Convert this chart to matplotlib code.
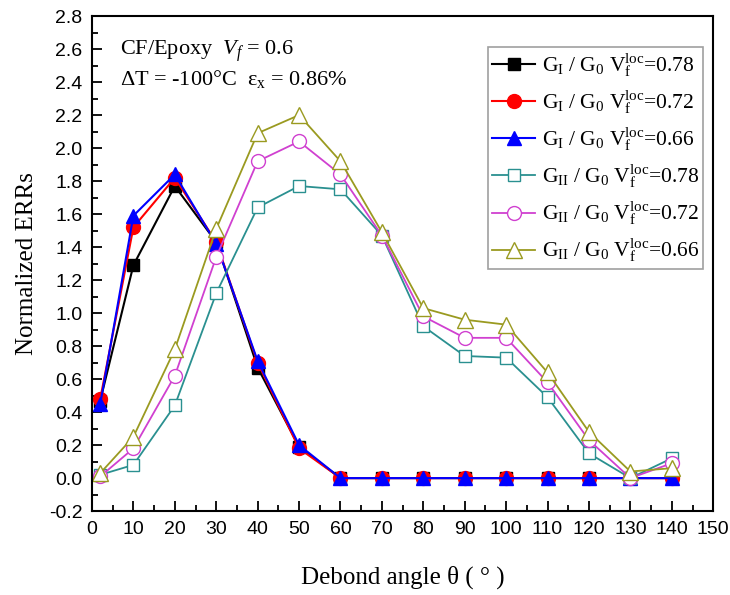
import matplotlib
matplotlib.use('Agg')
import matplotlib.pyplot as plt
from matplotlib.ticker import MultipleLocator

plt.rcParams['mathtext.fontset'] = 'custom'
plt.rcParams['mathtext.rm'] = 'Liberation Serif'
plt.rcParams['mathtext.it'] = 'Liberation Serif:italic'

theta = [2, 10, 20, 30, 40, 50, 60, 70, 80, 90, 100, 110, 120, 130, 140]

gI_078 = [0.47, 1.29, 1.77, 1.43, 0.67, 0.19, 0, 0, 0, 0, 0, 0, 0, 0, 0]
gI_072 = [0.48, 1.52, 1.82, 1.43, 0.70, 0.18, 0, 0, 0, 0, 0, 0, 0, 0, 0]
gI_066 = [0.45, 1.59, 1.84, 1.42, 0.71, 0.20, 0, 0, 0, 0, 0, 0, 0, 0, 0]
gII_078 = [0.02, 0.08, 0.44, 1.12, 1.64, 1.77, 1.75, 1.47, 0.92, 0.74, 0.73, 0.49, 0.15, 0.00, 0.12]
gII_072 = [0.01, 0.18, 0.62, 1.34, 1.92, 2.04, 1.84, 1.47, 0.98, 0.85, 0.85, 0.58, 0.23, 0.00, 0.09]
gII_066 = [0.03, 0.25, 0.78, 1.51, 2.09, 2.20, 1.92, 1.49, 1.03, 0.96, 0.93, 0.64, 0.28, 0.04, 0.06]

labels = [r'G$_\mathrm{I}$ / G$_0$ V$_\mathrm{f}^\mathrm{loc}$=0.78',
          r'G$_\mathrm{I}$ / G$_0$ V$_\mathrm{f}^\mathrm{loc}$=0.72',
          r'G$_\mathrm{I}$ / G$_0$ V$_\mathrm{f}^\mathrm{loc}$=0.66',
          r'G$_\mathrm{II}$ / G$_0$ V$_\mathrm{f}^\mathrm{loc}$=0.78',
          r'G$_\mathrm{II}$ / G$_0$ V$_\mathrm{f}^\mathrm{loc}$=0.72',
          r'G$_\mathrm{II}$ / G$_0$ V$_\mathrm{f}^\mathrm{loc}$=0.66']

fig = plt.figure(figsize=(7.3, 5.95), dpi=100)
ax = fig.add_axes([0.126, 0.141, 0.851, 0.832])

ax.plot(theta, gI_078, color='black', marker='s', ms=9, lw=1.5, label=labels[0])
ax.plot(theta, gI_072, color='red', marker='o', ms=10, lw=1.5, label=labels[1])
ax.plot(theta, gI_066, color='blue', marker='^', ms=10, lw=1.5, label=labels[2])
ax.plot(theta, gII_078, color='#2a9090', marker='s', ms=9, mfc='white', lw=1.3, label=labels[3])
ax.plot(theta, gII_072, color='#d040d0', marker='o', ms=10, mfc='white', lw=1.3, label=labels[4])
ax.plot(theta, gII_066, color='#9a9a20', marker='^', ms=11, mfc='white', lw=1.3, label=labels[5])

ax.set_xlim(0, 150)
ax.set_ylim(-0.2, 2.8)
ax.xaxis.set_major_locator(MultipleLocator(10))
ax.xaxis.set_minor_locator(MultipleLocator(5))
ax.yaxis.set_major_locator(MultipleLocator(0.2))
ax.yaxis.set_minor_locator(MultipleLocator(0.1))
ax.yaxis.set_major_formatter(matplotlib.ticker.FormatStrFormatter('%.1f'))
ax.tick_params(which='both', direction='in', top=False, right=False, width=1.3)
ax.tick_params(which='major', length=7, labelsize=14, pad=7)
ax.tick_params(which='minor', length=4)
for lab in ax.get_xticklabels() + ax.get_yticklabels():
    lab.set_family('Liberation Sans')
for s in ax.spines.values():
    s.set_linewidth(1.5)

ax.set_xlabel('Debond angle θ ( ° )', family='Liberation Serif', fontsize=18, labelpad=20)
ax.set_ylabel('Normalized ERRs', family='Liberation Serif', fontsize=18, labelpad=8)

ax.text(0.045, 0.955, r'CF/Epoxy  $\it{V_f}$ = 0.6', transform=ax.transAxes,
        family='Liberation Serif', fontsize=16, va='top')
ax.text(0.045, 0.895, r'ΔT = -100°C  ε$_\mathrm{x}$ = 0.86%', transform=ax.transAxes,
        family='Liberation Serif', fontsize=16, va='top')

leg = ax.legend(loc='upper right', bbox_to_anchor=(0.984, 0.937), fancybox=False,
                prop={'family': 'Liberation Serif', 'size': 15.5}, handlelength=2.0,
                labelspacing=0.45, borderpad=0.2, handletextpad=0.3,
                borderaxespad=0.0)
leg.get_frame().set_edgecolor('#888888')
leg.get_frame().set_linewidth(1.2)

fig.savefig('out.png', dpi=100)
